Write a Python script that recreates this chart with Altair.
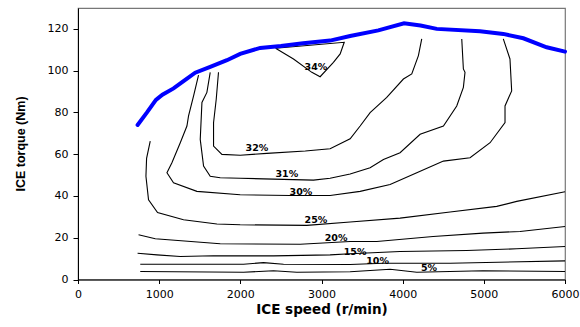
import altair as alt
import pandas as pd

# ---- data ----
x_ticks = [0, 1000, 2000, 3000, 4000, 5000, 6000]
y_ticks = [0, 20, 40, 60, 80, 100, 120]

# maximum torque curve (blue)
max_speed = [734, 850, 960, 1040, 1177, 1300, 1444, 1629, 1835, 1998, 2245, 2500, 2774, 3106,
             3353, 3700, 4017, 4220, 4420, 4953, 5240, 5487, 5774, 6000]
max_torque = [74, 80, 86, 88.5, 91.5, 95, 99, 101.8, 105, 108, 110.9, 111.8, 113.1, 114.4,
              116.6, 119.3, 122.7, 121.6, 120, 118.9, 117.6, 115.5, 111.2, 109.1]

# efficiency contours
c34_speed = [2434, 2655, 2881, 2983, 3147, 3230, 3280, 2434]
c34_torque = [110.7, 105.6, 99.2, 97.1, 104, 108, 113.6, 110.7]

c32_speed = [1731, 1703, 1670, 1670, 1773, 1998, 2327, 2800, 3106, 3353, 3476, 3599, 3804,
             4009, 4112, 4194, 4235]
c32_torque = [99.2, 86.3, 75.1, 63.9, 59.9, 59.5, 60.4, 61.5, 62.6, 67.4, 73.5, 79.9, 87.2,
              96, 98.4, 107.2, 115.2]

c31_speed = [1629, 1588, 1527, 1506, 1547, 1629, 1752, 1998, 2285, 2901, 3106, 3353, 3599,
             3763, 3968, 4215, 4502, 4666, 4748, 4768, 4748, 4728]
c31_torque = [99.2, 89.6, 84.8, 67.1, 54.3, 49.4, 48.7, 48.5, 48.2, 47.6, 48.5, 50.5, 53.5,
              57.5, 60.7, 69.5, 73.5, 83.1, 92, 99.2, 100.8, 115.2]

c30_speed = [1485, 1424, 1362, 1342, 1260, 1157, 1096, 1177, 1465, 1998, 2614, 3106, 3476,
             3845, 4174, 4502, 4830, 5077, 5261, 5261, 5343, 5322, 5240]
c30_torque = [97.9, 87.9, 78.3, 73.5, 65.5, 55.9, 51.1, 46.3, 42.2, 40.6, 40.2, 40.2, 42.2,
              45.5, 51.1, 56.7, 58.3, 65.5, 75.1, 83.1, 90.3, 105.6, 115.2]

c25_speed = [890, 845, 837, 869, 980, 1300, 1711, 1998, 2819, 3353, 3968, 4584, 5159, 5405, 6000]
c25_torque = [66.3, 58, 49.4, 38.2, 32.1, 28.6, 26.6, 26.2, 25.9, 27.5, 29.4, 32.3, 35, 37.4, 42]

c20_speed = [746, 952, 1752, 2737, 3353, 3681, 4375, 4990, 5446, 6000]
c20_torque = [21.4, 19.5, 17.1, 16.9, 18.2, 18.2, 20.6, 22.2, 23, 25.4]

c15_speed = [734, 973, 1260, 1670, 2408, 3106, 3353, 3968, 4789, 5405, 6000]
c15_torque = [12.6, 11.8, 11, 11.4, 11.3, 11.8, 12.3, 13.4, 13.9, 14.7, 15.8]

c10_speed = [767, 2039, 2285, 2532, 3353, 3759, 4584, 6000]
c10_torque = [7.3, 7.3, 8.1, 7.3, 7.2, 7.8, 7.8, 8.9]

c05_speed = [767, 2039, 2408, 2696, 3353, 3845, 4174, 4990, 6000]
c05_torque = [3.8, 3.5, 4.2, 3.5, 3.7, 4.9, 3.5, 4.2, 3.8]

label_text = ["34%", "32%", "31%", "30%", "25%", "20%", "15%", "10%", "5%"]
label_speed = [2932, 2204, 2573, 2747, 2932, 3180, 3414, 3691, 4325]
label_torque = [101.9, 62.8, 50.6, 42.1, 28.5, 19.8, 13.4, 8.9, 5.4]

# ---- tables ----
contours = [("34", c34_speed, c34_torque), ("32", c32_speed, c32_torque),
            ("31", c31_speed, c31_torque), ("30", c30_speed, c30_torque),
            ("25", c25_speed, c25_torque), ("20", c20_speed, c20_torque),
            ("15", c15_speed, c15_torque), ("10", c10_speed, c10_torque),
            ("05", c05_speed, c05_torque)]
rows = []
for lvl, sp, tq in contours:
    for i, (s, t) in enumerate(zip(sp, tq)):
        rows.append({"level": lvl, "seq": i, "speed": s, "torque": t})
df_c = pd.DataFrame(rows)
df_max = pd.DataFrame({"speed": max_speed, "torque": max_torque, "seq": range(len(max_speed))})
df_lab = pd.DataFrame({"text": label_text, "speed": label_speed, "torque": label_torque})

FONT = "Liberation Sans"
WIDE = "DejaVu Sans"

x_enc = alt.X("speed:Q", scale=alt.Scale(domain=[0, 6000], nice=False),
              axis=alt.Axis(values=x_ticks, format="d", title="ICE speed (r/min)", grid=False,
                            tickSize=4, labelPadding=5, labelFontSize=11,
                            labelFont=WIDE, labelColor="black",
                            titleFont=WIDE, titleFontSize=13.5, titleFontWeight="bold",
                            titleColor="black", titleX=243.5, titleY=30,
                            titleBaseline="middle", titleAlign="center",
                            domainColor="black", tickColor="black", labelFlush=False))
y_enc = alt.Y("torque:Q", scale=alt.Scale(domain=[0, 130], nice=False),
              axis=alt.Axis(values=y_ticks, format="d", title="ICE torque (Nm)", grid=False,
                            tickSize=5, labelPadding=5, labelFontSize=11,
                            labelFont=WIDE, labelColor="black",
                            titleFont=FONT, titleFontSize=12.5, titleFontWeight="bold",
                            titleColor="black", titleX=-58, titleY=135.5,
                            titleBaseline="middle", titleAlign="center", titleAngle=-90,
                            domainColor="black", tickColor="black", labelFlush=False))

lines = alt.Chart(df_c).mark_line(color="black", strokeWidth=1.1).encode(
    x=x_enc, y=y_enc, detail="level:N", order="seq:Q")
maxline = alt.Chart(df_max).mark_line(color="#0000ff", strokeWidth=4, strokeCap="round").encode(
    x=x_enc, y=y_enc, order="seq:Q")
labels = alt.Chart(df_lab).mark_text(font=WIDE, fontSize=9.5, fontWeight="bold",
                                     color="black", baseline="middle", align="center").encode(
    x=x_enc, y=y_enc, text="text:N")

chart = alt.layer(lines, maxline, labels).properties(
    width=487, height=271.5, autosize="none",
    padding={"left": 78, "top": 8, "right": 15, "bottom": 47.5},
    background="white"
).configure_view(stroke="#777777", strokeWidth=1.2)

chart.save("out.html", embed_options={"renderer": "svg", "actions": False})
